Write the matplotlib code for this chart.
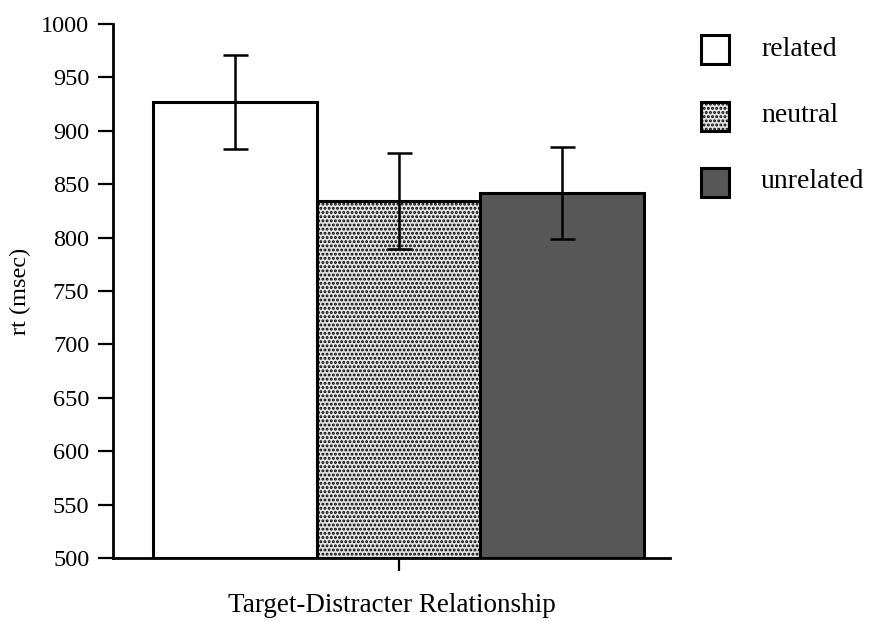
import matplotlib
matplotlib.use("Agg")
import matplotlib.pyplot as plt
from matplotlib.patches import Rectangle

plt.rcParams["font.family"] = ["Liberation Serif", "DejaVu Serif"]
plt.rcParams["hatch.linewidth"] = 1.4

# reaction time by target-distracter relationship
conditions = ["related", "neutral", "unrelated"]
rt_mean = [927, 834, 842]
rt_err = [44, 45, 43]

faces = ["white", "#e4e4e4", "#575757"]
hatches = [None, "....", None]

fig = plt.figure(figsize=(8.75, 6.21), dpi=100)
ax = fig.add_axes([0.129, 0.1014, 0.637, 0.86])

pos = range(len(conditions))
for i, (m, fc, h) in enumerate(zip(rt_mean, faces, hatches)):
    ax.bar(i, m - 500, bottom=500, width=1.0, color=fc, hatch=h,
           edgecolor="black", linewidth=2.2, zorder=2)
ax.errorbar(list(pos), rt_mean, yerr=rt_err, fmt="none", ecolor="black",
            elinewidth=1.8, capsize=9, capthick=1.8, zorder=3)

ax.set_xlim(-0.744, 2.659)
ax.set_ylim(500, 1000)
ax.set_yticks(range(500, 1001, 50))
ax.set_xticks([1])
ax.set_xticklabels([""])

for s in ["top", "right"]:
    ax.spines[s].set_visible(False)
for s in ["left", "bottom"]:
    ax.spines[s].set_linewidth(2)
ax.tick_params(axis="y", direction="out", length=11, width=1.6,
               labelsize=17.5, pad=6)
ax.tick_params(axis="x", direction="out", length=9, width=1.6)

ax.set_ylabel("rt (msec)", fontsize=17.5)
ax.yaxis.set_label_coords(-0.147, 0.5)
ax.set_xlabel("Target-Distracter Relationship", fontsize=19.5, va="center")
ax.xaxis.set_label_coords(0.5, -0.088)

# legend boxes drawn in figure pixels
W, H = 875, 621
box_tops = [35, 102, 168]
for name, fc, h, top in zip(conditions, faces, hatches, box_tops):
    fig.add_artist(Rectangle((701 / W, 1 - (top + 29) / H), 28 / W, 29 / H,
                             transform=fig.transFigure, facecolor=fc,
                             hatch=h, edgecolor="black", linewidth=2.2))
    fig.text(761 / W, 1 - (top + 14) / H, name, fontsize=20,
             va="center", ha="left")

fig.savefig("out.png", dpi=100)
